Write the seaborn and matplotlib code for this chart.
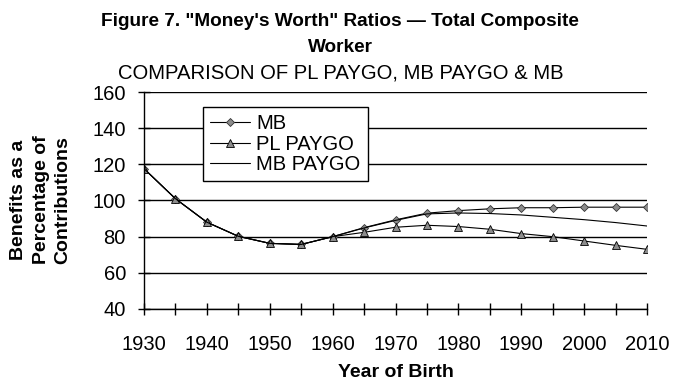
import numpy as np
import pandas as pd
import matplotlib
matplotlib.use("Agg")
import matplotlib.pyplot as plt
import seaborn as sns

# data
years = [1930, 1935, 1940, 1945, 1950, 1955, 1960, 1965, 1970, 1975,
         1980, 1985, 1990, 1995, 2000, 2005, 2010]
mb = [117.6, 101, 88, 80.2, 76.3, 75.7, 80, 85, 89.3, 93,
      94.4, 95.4, 96, 96, 96.3, 96.3, 96.3]
pl_paygo = [117.6, 101, 88, 80.2, 76.3, 75.7, 80, 82.4, 85.2, 86.3,
            85.6, 84.1, 81.7, 80, 77.6, 75.2, 73]
mb_paygo = [117.6, 101, 88, 80.2, 76.3, 75.7, 80, 84.8, 89, 92.6,
            93.1, 92.8, 92, 90.7, 89.4, 87.8, 85.9]
y_ticks = [40, 60, 80, 100, 120, 140, 160]
x_ticks = [1930, 1940, 1950, 1960, 1970, 1980, 1990, 2000, 2010]

sns.set_style("white")
plt.rcParams['font.family'] = ['Liberation Sans', 'DejaVu Sans']
plt.rcParams['text.color'] = 'black'
plt.rcParams['axes.labelcolor'] = 'black'
plt.rcParams['xtick.color'] = 'black'
plt.rcParams['ytick.color'] = 'black'

fig = plt.figure(figsize=(6.94, 3.9), dpi=100)
ax = fig.add_axes([144 / 694, 1 - 309 / 390, (647 - 144) / 694, (309 - 92) / 390])

df = pd.DataFrame({"year": years, "MB": mb, "PL PAYGO": pl_paygo, "MB PAYGO": mb_paygo})

sns.lineplot(data=df, x="year", y="MB", ax=ax, color="black", lw=0.8,
             marker="D", markersize=4.5, markerfacecolor="#8c8c8c",
             markeredgecolor="#333333", markeredgewidth=0.6, label="MB")
sns.lineplot(data=df, x="year", y="PL PAYGO", ax=ax, color="black", lw=0.8,
             marker="^", markersize=6, markerfacecolor="#8c8c8c",
             markeredgecolor="black", markeredgewidth=0.6, label="PL PAYGO")
sns.lineplot(data=df, x="year", y="MB PAYGO", ax=ax, color="black", lw=0.8,
             label="MB PAYGO")

ax.set_xlim(1930, 2010)
ax.set_ylim(40, 160)
ax.set_yticks(y_ticks)
ax.set_xticks(x_ticks)
ax.set_xticks(np.arange(1935, 2010, 10), minor=True)
ax.grid(axis="y", color="black", lw=1.0)
ax.set_axisbelow(True)
for s in ["top", "right"]:
    ax.spines[s].set_visible(False)
for s in ["left", "bottom"]:
    ax.spines[s].set_color("black")
    ax.spines[s].set_linewidth(1.0)
ax.tick_params(axis="both", which="both", direction="inout", length=8,
               width=1.0, color="black", labelsize=14.5, left=True, bottom=True)
ax.tick_params(axis="y", which="major", pad=9)
ax.tick_params(axis="x", which="major", pad=15)

ax.set_xlabel("Year of Birth", fontsize=14, fontweight="bold", labelpad=7)
ax.set_ylabel("")
fig.text(41 / 694, 1 - 200 / 390, "Benefits as a\nPercentage of\nContributions",
         rotation=90, ha="center", va="center", fontsize=14, fontweight="bold",
         linespacing=1.4, multialignment="center")

fig.text(340 / 694, 1 - 21 / 390, "Figure 7. \"Money's Worth\" Ratios \u2014 Total Composite",
         ha="center", va="center", fontsize=13.7, fontweight="bold")
fig.text(340 / 694, 1 - 48 / 390, "Worker",
         ha="center", va="center", fontsize=13.7, fontweight="bold")
fig.text(341 / 694, 1 - 73 / 390, "COMPARISON OF PL PAYGO, MB PAYGO & MB",
         ha="center", va="center", fontsize=14.6)

leg = ax.legend(loc="upper left", bbox_to_anchor=(203 / 694, 1 - 107 / 390),
                bbox_transform=fig.transFigure, fontsize=14.5, frameon=True,
                fancybox=False, shadow=False, borderpad=0.35, labelspacing=0.08,
                handlelength=2.0, handletextpad=0.3, borderaxespad=0)
leg.get_frame().set_edgecolor("black")
leg.get_frame().set_linewidth(1.0)
leg.get_frame().set_facecolor("white")
leg.get_frame().set_alpha(1)

fig.savefig("out.png", dpi=100)
